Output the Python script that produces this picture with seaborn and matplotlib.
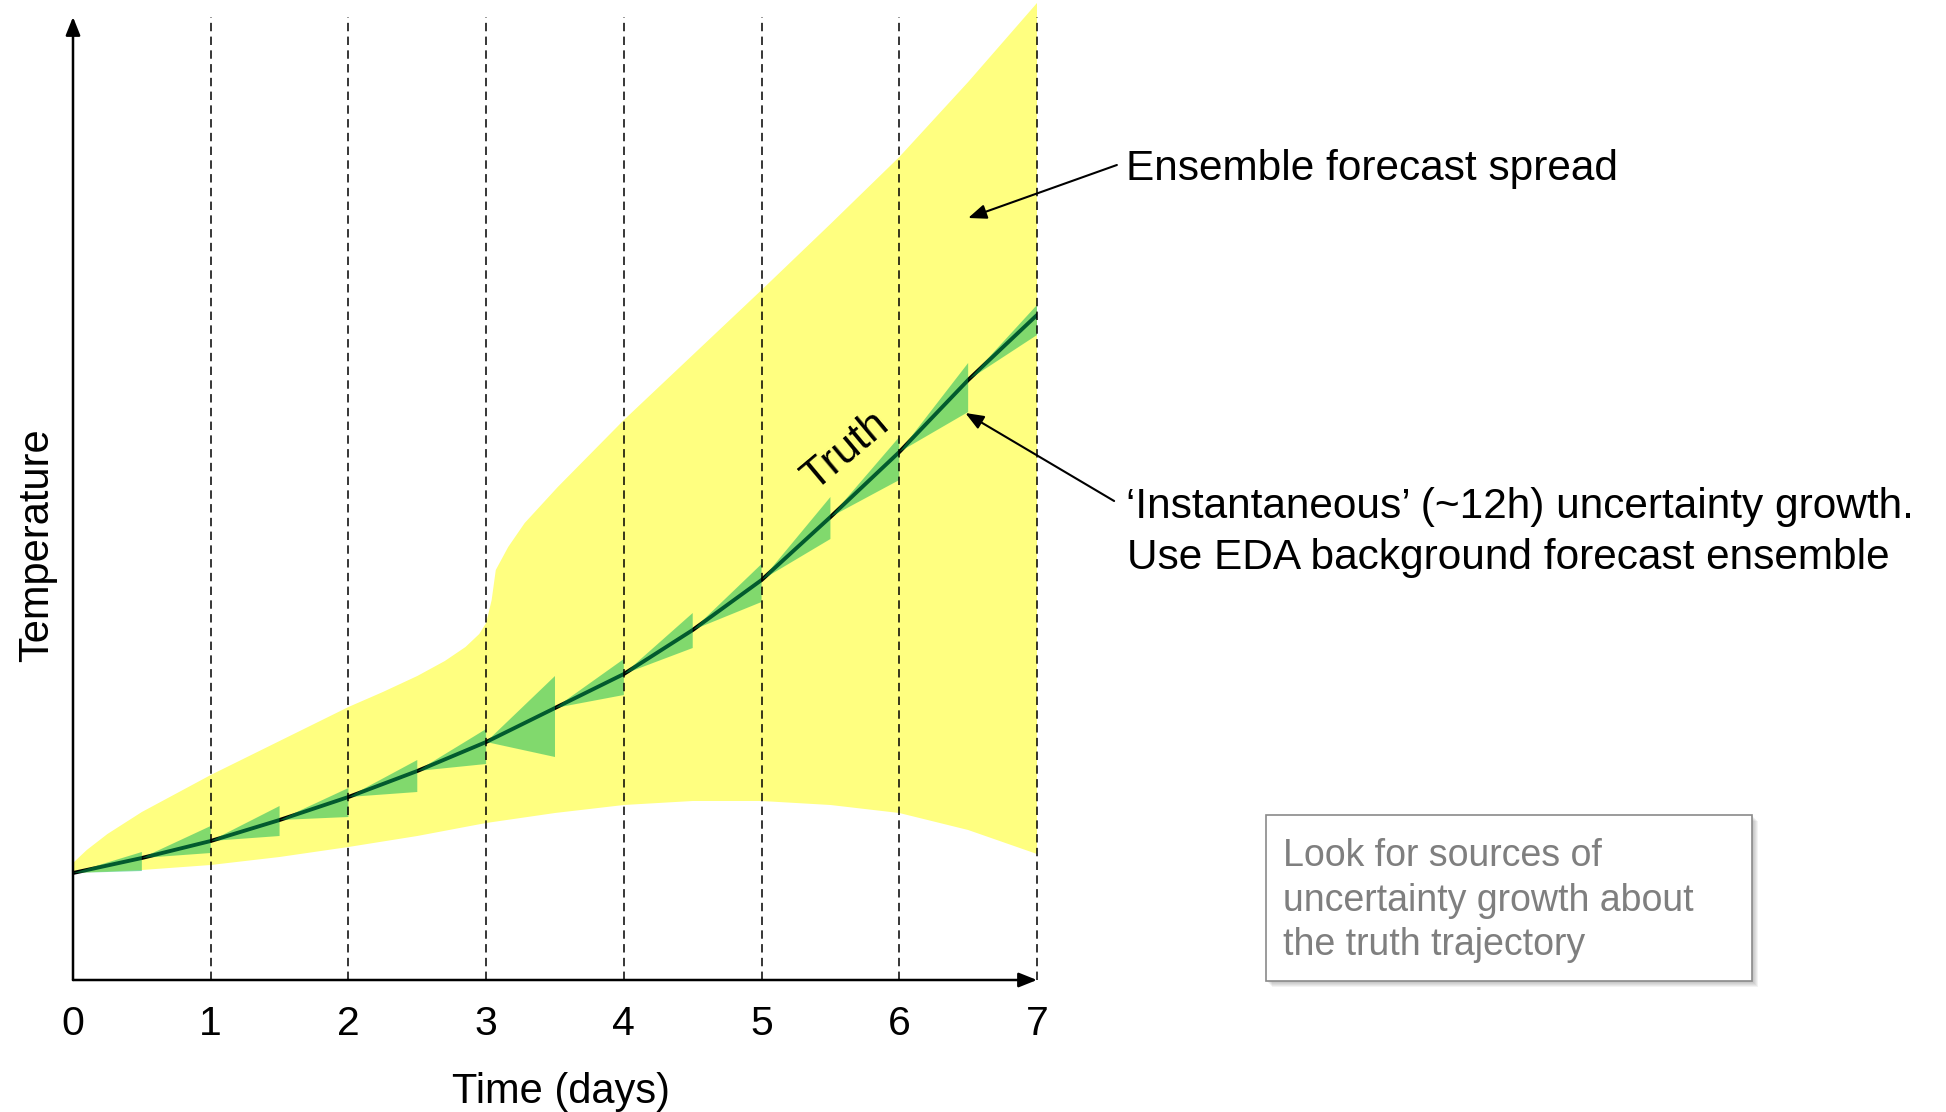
import matplotlib
matplotlib.use("Agg")
import matplotlib.pyplot as plt
from matplotlib.patches import Rectangle
import seaborn as sns

# Truth trajectory, sampled every half day
days = [0.0, 0.5, 1.0, 1.5, 2.0, 2.5, 3.0, 3.5, 4.0, 4.5, 5.0, 5.5, 6.0, 6.5, 7.0]
truth = [1.07, 1.22, 1.39, 1.60, 1.83, 2.09, 2.38, 2.72, 3.06, 3.50, 4.00, 4.63, 5.28, 6.00, 6.65]

# 12-hour uncertainty wedges: open end half a day after each start
wedge_top = [1.28, 1.54, 1.74, 1.92, 2.20, 2.51, 3.04, 3.21, 3.67, 4.16, 4.83, 5.43, 6.17, 6.75]
wedge_bottom = [1.09, 1.27, 1.44, 1.63, 1.88, 2.16, 2.23, 2.85, 3.32, 3.78, 4.41, 5.00, 5.68, 6.45]

# Ensemble forecast spread envelope
spread_upper_days = [0, 0.1, 0.25, 0.5, 1, 1.5, 2, 2.25, 2.5, 2.7, 2.85, 2.95, 3.0, 3.04, 3.07,
                     3.16, 3.28, 3.52, 4.0, 4.5, 5, 5.5, 6, 6.5, 7]
spread_upper = [1.17, 1.30, 1.46, 1.68, 2.05, 2.39, 2.73, 2.88, 3.04, 3.19, 3.33, 3.46, 3.57, 3.80, 4.10,
                4.33, 4.57, 4.93, 5.60, 6.25, 6.90, 7.56, 8.23, 8.98, 9.77]
spread_lower_days = [0, 0.5, 1, 1.5, 2, 2.5, 3, 3.5, 4, 4.5, 5, 5.5, 6, 6.5, 7]
spread_lower = [1.07, 1.10, 1.15, 1.23, 1.33, 1.44, 1.57, 1.67, 1.75, 1.79, 1.79, 1.75, 1.67, 1.50, 1.26]

tick_days = [0, 1, 2, 3, 4, 5, 6, 7]
tick_labels = ["0", "1", "2", "3", "4", "5", "6", "7"]

sns.set_theme(style="white")
plt.rcParams["font.family"] = ["Liberation Sans", "DejaVu Sans"]
plt.rcParams["text.color"] = "black"
plt.rcParams["xtick.color"] = "black"

W, H = 1946, 1112
fig = plt.figure(figsize=(W / 100, H / 100), dpi=100)
fig.patch.set_facecolor("white")


def fpos(x, y):
    """Pixel position (from top-left) to figure fraction."""
    return x / W, 1 - y / H


ax = fig.add_axes([73 / W, 132 / H, 964 / W, 980 / H])
ax.set_xlim(0, 7)
ax.set_ylim(0, 9.80)
ax.set_facecolor("none")
for s in ax.spines.values():
    s.set_visible(False)
ax.set_yticks([])
ax.set_xticks(tick_days)
ax.set_xticklabels(tick_labels, fontsize=29.5)
ax.tick_params(axis="x", length=0, pad=18)

# Spread envelope
env_x = spread_upper_days + spread_lower_days[::-1]
env_y = spread_upper + spread_lower[::-1]
ax.fill(env_x, env_y, color="#ffff80", lw=0, zorder=1, clip_on=False)

# Truth line
sns.lineplot(x=days, y=truth, ax=ax, color="black", lw=2.8, zorder=3)

# Half-day growth wedges on top of the truth line
for t0, y0, top, bot in zip(days[:-1], truth[:-1], wedge_top, wedge_bottom):
    ax.fill([t0, t0 + 0.5, t0 + 0.5], [y0, top, bot], color="#05b55c",
            alpha=0.5, lw=0, zorder=4)

# Daily dashed guides
for d in tick_days[1:]:
    ax.plot([d, d], [0, 9.63], color="black", lw=1.1, ls=(0, (5.5, 3.5)),
            zorder=5, clip_on=False)

# Axes drawn as arrows
axis_arrow = dict(arrowstyle="-|>,head_length=0.55,head_width=0.22", lw=1.8,
                  color="black", mutation_scale=20, shrinkA=0, shrinkB=0)
ax.annotate("", xy=(0, 9.63), xytext=(0, 0), arrowprops=axis_arrow,
            annotation_clip=False, zorder=6)
ax.annotate("", xy=(7, 0), xytext=(0, 0), arrowprops=axis_arrow,
            annotation_clip=False, zorder=6)

ax.set_xlabel("")
ax.set_ylabel("")

ax.text(5.61, 5.29, "Truth", rotation=40, rotation_mode="anchor",
        ha="center", va="center", fontsize=31, zorder=7)

# Callout arrows
note_arrow = dict(arrowstyle="-|>,head_length=0.55,head_width=0.22", lw=1.5,
                  color="black", mutation_scale=20, shrinkA=0, shrinkB=0)
ax.annotate("", xy=(6.50, 7.62), xytext=(7.58, 8.15), arrowprops=note_arrow,
            annotation_clip=False, zorder=7)
ax.annotate("", xy=(6.48, 5.67), xytext=(7.56, 4.79), arrowprops=note_arrow,
            annotation_clip=False, zorder=7)

fig.text(*fpos(1126, 180), "Ensemble forecast spread", fontsize=30.5,
         ha="left", va="baseline")
fig.text(*fpos(1126, 518), "\u2018Instantaneous\u2019 (~12h) uncertainty growth.",
         fontsize=30.5, ha="left", va="baseline")
fig.text(*fpos(1127, 569), "Use EDA background forecast ensemble",
         fontsize=30.5, ha="left", va="baseline")

fig.text(*fpos(37, 545), "Temperature", rotation=90, fontsize=30,
         ha="center", va="center")
fig.text(*fpos(561, 1103), "Time (days)", fontsize=30, ha="center", va="baseline")

# Note box with a soft drop shadow
bx0, by0, bx1, by1 = 1266, 815, 1752, 981
for k in range(6, 0, -1):
    fig.patches.append(Rectangle(fpos(bx0 + k, by1 + k), (bx1 - bx0) / W, (by1 - by0) / H,
                                 transform=fig.transFigure, facecolor="#555555",
                                 edgecolor="none", alpha=0.07, zorder=1))
fig.patches.append(Rectangle(fpos(bx0, by1), (bx1 - bx0) / W, (by1 - by0) / H,
                             transform=fig.transFigure, facecolor="white",
                             edgecolor="#8a8a8a", lw=1.2, zorder=2))
note_lines = ["Look for sources of", "uncertainty growth about", "the truth trajectory"]
for line, base in zip(note_lines, [866, 911, 955]):
    fig.text(*fpos(1283, base), line, fontsize=27, color="#7f7f7f",
             ha="left", va="baseline", zorder=3)

fig.savefig("out.png", dpi=100)
